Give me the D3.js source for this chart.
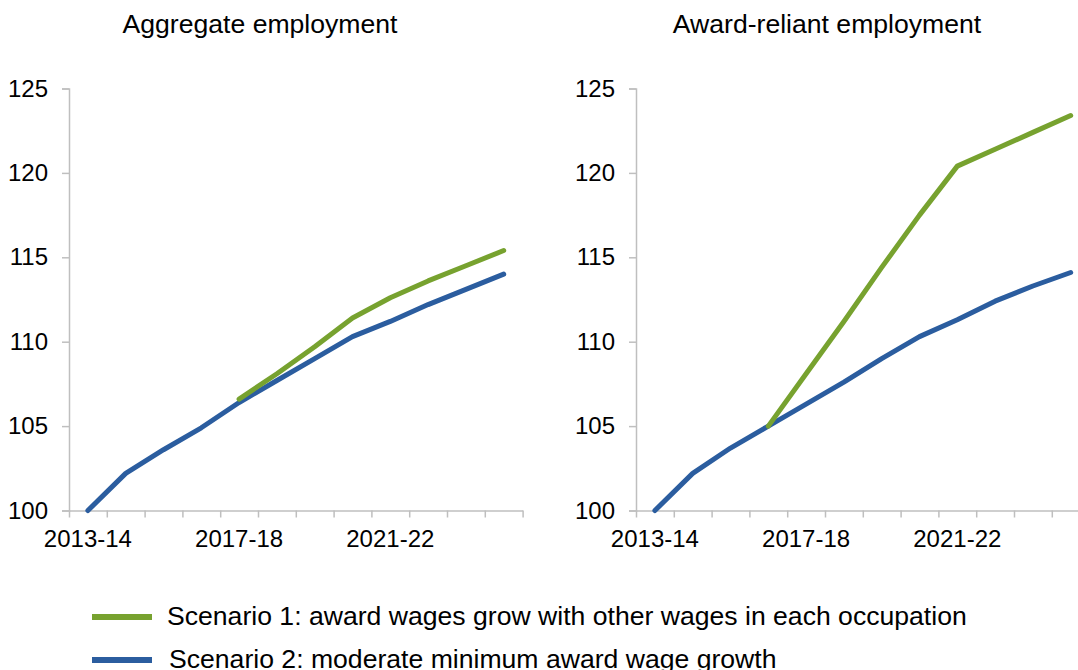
<!DOCTYPE html>
<html>
<head>
<meta charset="utf-8">
<script src="https://cdn.jsdelivr.net/npm/d3@7"></script>
<style>
  html, body { margin: 0; padding: 0; background: #fff; }
  svg { display: block; font-family: "Liberation Sans", Arial, sans-serif; }
</style>
</head>
<body>
<svg id="chart" width="1078" height="670"></svg>
<script>
// Financial years shown on the category axis
const years = ['2013-14','2014-15','2015-16','2016-17','2017-18','2018-19',
               '2019-20','2020-21','2021-22','2022-23','2023-24','2024-25'];
const labelledYears = ['2013-14','2017-18','2021-22'];
const yTicks = [100, 105, 110, 115, 120, 125];

// Employment index (2013-14 = 100)
const aggregateScenario1 = [null, null, null, null, 106.6, 108.1, 109.7, 111.4, 112.6, 113.6, 114.5, 115.4];
const aggregateScenario2 = [100, 102.2, 103.6, 104.9, 106.4, 107.7, 109.0, 110.3, 111.2, 112.2, 113.1, 114.0];
const awardScenario1     = [null, null, null, 105.0, 108.1, 111.2, 114.4, 117.5, 120.4, 121.4, 122.4, 123.4];
const awardScenario2     = [100, 102.2, 103.7, 105.0, 106.3, 107.6, 109.0, 110.3, 111.3, 112.4, 113.3, 114.1];

const panelTitles = ['Aggregate employment', 'Award-reliant employment'];
const legendLabels = ['Scenario 1: award wages grow with other wages in each occupation',
                      'Scenario 2: moderate minimum award wage growth'];

const GREEN = '#77a22f';
const BLUE = '#2b5d9f';
const AXIS = '#bfbfbf';

const svg = d3.select('#chart');

const panels = [
  { title: panelTitles[0], left: 69,  titleX: 260, s1: aggregateScenario1, s2: aggregateScenario2 },
  { title: panelTitles[1], left: 636, titleX: 827, s1: awardScenario1,     s2: awardScenario2 }
];

const plotWidth = 453.6;
const y = d3.scaleLinear().domain([100, 125]).range([510.5, 88.5]);

panels.forEach(p => {
  const g = svg.append('g');
  const x = d3.scaleBand().domain(years).range([p.left, p.left + plotWidth]).padding(0);
  const xEdge = d3.scaleLinear().domain([0, years.length]).range([p.left, p.left + plotWidth]);

  // Title
  g.append('text')
    .attr('x', p.titleX).attr('y', 33)
    .attr('text-anchor', 'middle')
    .attr('font-size', 26.6)
    .attr('fill', '#000')
    .text(p.title);

  // Y axis
  const yAxis = g.append('g')
    .attr('transform', `translate(${p.left},0)`)
    .call(d3.axisLeft(y).tickValues(yTicks).tickSize(7).tickPadding(14).tickFormat(d3.format('d')));
  yAxis.select('.domain').attr('stroke', AXIS).attr('stroke-width', 1.5);
  yAxis.selectAll('.tick line').attr('stroke', AXIS).attr('stroke-width', 1.5);
  yAxis.selectAll('.tick text')
    .attr('font-size', 24).attr('fill', '#000')
    .attr('font-family', '"Liberation Sans", Arial, sans-serif');

  // X axis: tick marks on category boundaries
  const xAxis = g.append('g')
    .attr('transform', `translate(0,${y(100)})`)
    .call(d3.axisBottom(xEdge).tickValues(d3.range(0, years.length + 1)).tickSize(7).tickSizeOuter(0).tickFormat(''));
  xAxis.select('.domain').attr('stroke', AXIS).attr('stroke-width', 1.5);
  xAxis.selectAll('.tick line').attr('stroke', AXIS).attr('stroke-width', 1.5);

  // Category labels
  g.selectAll('.xlab').data(labelledYears).enter().append('text')
    .attr('class', 'xlab')
    .attr('x', d => x(d) + x.bandwidth() / 2)
    .attr('y', 547)
    .attr('text-anchor', 'middle')
    .attr('font-size', 24)
    .attr('fill', '#000')
    .text(d => d);

  const line = d3.line()
    .defined(d => d.v != null)
    .x(d => x(d.year) + x.bandwidth() / 2)
    .y(d => y(d.v));

  [[p.s2, BLUE], [p.s1, GREEN]].forEach(([vals, color]) => {
    g.append('path')
      .datum(years.map((yr, i) => ({ year: yr, v: vals[i] })))
      .attr('d', line)
      .attr('fill', 'none')
      .attr('stroke', color)
      .attr('stroke-width', 5)
      .attr('stroke-linejoin', 'round')
      .attr('stroke-linecap', 'round');
  });
});

// Legend
const legend = svg.append('g');
[[legendLabels[0], GREEN, 617, 167, 625], [legendLabels[1], BLUE, 660, 169, 668]].forEach(([label, color, ly, tx, ty]) => {
  legend.append('line')
    .attr('x1', 92).attr('x2', 152)
    .attr('y1', ly).attr('y2', ly)
    .attr('stroke', color).attr('stroke-width', 6);
  legend.append('text')
    .attr('x', tx).attr('y', ty)
    .attr('font-size', 26.6)
    .attr('fill', '#000')
    .text(label);
});
</script>
</body>
</html>
